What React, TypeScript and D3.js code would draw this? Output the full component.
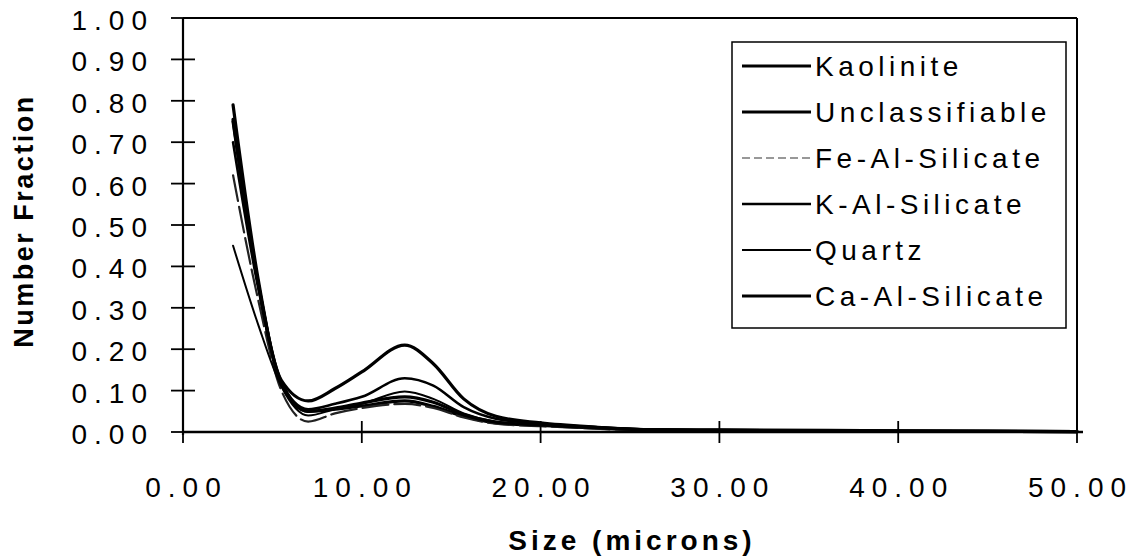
import React from 'react';
import * as d3 from 'd3';

// ---- data ----
const sizes = [2.8, 4.2, 5.5, 7, 8.5, 10, 12.4, 14, 15.7, 17.5, 20, 23, 26, 30, 40, 50];
const kaolinite = [0.79, 0.37, 0.115, 0.05, 0.055, 0.063, 0.075, 0.062, 0.038, 0.022, 0.016, 0.01, 0.005, 0.004, 0.002, 0.001];
const unclassifiable = [0.755, 0.36, 0.125, 0.075, 0.105, 0.145, 0.21, 0.165, 0.08, 0.038, 0.022, 0.012, 0.006, 0.005, 0.003, 0.001];
const feAlSilicate = [0.62, 0.32, 0.1, 0.025, 0.045, 0.058, 0.068, 0.058, 0.035, 0.02, 0.014, 0.008, 0.004, 0.003, 0.002, 0.001];
const kAlSilicate = [0.7, 0.35, 0.12, 0.055, 0.068, 0.085, 0.13, 0.112, 0.06, 0.032, 0.02, 0.012, 0.006, 0.004, 0.002, 0.001];
const quartz = [0.45, 0.26, 0.11, 0.04, 0.055, 0.068, 0.098, 0.08, 0.045, 0.025, 0.017, 0.01, 0.005, 0.004, 0.002, 0.001];
const caAlSilicate = [0.75, 0.36, 0.12, 0.05, 0.058, 0.07, 0.085, 0.072, 0.042, 0.024, 0.017, 0.011, 0.005, 0.004, 0.002, 0.001];

const seriesNames = ['Kaolinite', 'Unclassifiable', 'Fe-Al-Silicate', 'K-Al-Silicate', 'Quartz', 'Ca-Al-Silicate'];
const seriesValues = [kaolinite, unclassifiable, feAlSilicate, kAlSilicate, quartz, caAlSilicate];

const yTicks = [0, 0.1, 0.2, 0.3, 0.4, 0.5, 0.6, 0.7, 0.8, 0.9, 1.0];
const xTicks = [0, 10, 20, 30, 40, 50];

// ---- styles ----
const seriesStyles = [
  { stroke: '#000', width: 3.2, dash: '', legendStroke: '#000', legendDash: '' },
  { stroke: '#000', width: 3.2, dash: '', legendStroke: '#000', legendDash: '' },
  { stroke: '#222', width: 2.2, dash: '26,6', legendStroke: '#777', legendDash: '8,4' },
  { stroke: '#000', width: 2.6, dash: '', legendStroke: '#000', legendDash: '' },
  { stroke: '#000', width: 2.0, dash: '', legendStroke: '#000', legendDash: '' },
  { stroke: '#000', width: 3.2, dash: '', legendStroke: '#000', legendDash: '' },
];

const FONT = '"Liberation Sans", Arial, Helvetica, sans-serif';

export default function App() {
  const W = 1133;
  const H = 558;
  const x = d3.scaleLinear().domain([0, 50]).range([183, 1077]);
  const y = d3.scaleLinear().domain([0, 1]).range([432, 18]);

  const line = d3
    .line<[number, number]>()
    .x((d) => x(d[0]))
    .y((d) => y(d[1]))
    .curve(d3.curveMonotoneX);

  const legendTop = 42;
  const legendRight = 1066;
  const legendLeft = 732;
  const rowH = 46;
  const firstRow = 72;
  const legendBottom = firstRow + rowH * (seriesNames.length - 1) + 26;

  return (
    <div style={{ position: 'fixed', left: 0, top: 0 }}>
      <svg width={W} height={H} style={{ display: 'block', background: '#fff' }}>
        {/* frame top/right */}
        <line x1={x(0)} x2={x(50)} y1={y(1)} y2={y(1)} stroke="#000" strokeWidth={2} />
        <line x1={x(50)} x2={x(50)} y1={y(1)} y2={y(0)} stroke="#000" strokeWidth={2} />

        {/* series */}
        {seriesValues.map((vals, i) => {
          const pts = sizes.map((s, k) => [s, vals[k]] as [number, number]);
          const st = seriesStyles[i];
          return (
            <path
              key={seriesNames[i]}
              d={line(pts) || ''}
              fill="none"
              stroke={st.stroke}
              strokeWidth={st.width}
              strokeDasharray={st.dash || undefined}
              strokeLinejoin="round"
              strokeLinecap="round"
            />
          );
        })}

        {/* axes */}
        <line x1={x(0)} x2={x(0)} y1={y(1)} y2={y(0) + 3} stroke="#000" strokeWidth={2.2} />
        <line x1={x(0)} x2={x(50) + 6} y1={y(0)} y2={y(0)} stroke="#000" strokeWidth={2.6} />
        {yTicks.map((t) => (
          <g key={'y' + t}>
            <line x1={x(0) - 12} x2={x(0) + 12} y1={y(t)} y2={y(t)} stroke="#000" strokeWidth={1.8} />
            <text
              x={154}
              y={y(t) + 12}
              textAnchor="end"
              fontFamily={FONT}
              fontSize={28}
              letterSpacing={7}
              fill="#000"
            >
              {t.toFixed(2)}
            </text>
          </g>
        ))}
        {xTicks.map((t) => (
          <g key={'x' + t}>
            <line x1={x(t)} x2={x(t)} y1={y(0) - 11} y2={y(0) + 11} stroke="#000" strokeWidth={1.8} />
            <text
              x={x(t) + 3.5}
              y={497}
              textAnchor="middle"
              fontFamily={FONT}
              fontSize={28}
              letterSpacing={7}
              fill="#000"
            >
              {t.toFixed(2)}
            </text>
          </g>
        ))}

        {/* axis titles */}
        <text
          transform={`translate(33, 221) rotate(-90)`}
          textAnchor="middle"
          fontFamily={FONT}
          fontSize={27}
          fontWeight="bold"
          letterSpacing={2.5}
          fill="#000"
        >
          Number Fraction
        </text>
        <text
          x={(x(0) + x(50)) / 2 + 2}
          y={550}
          textAnchor="middle"
          fontFamily={FONT}
          fontSize={28}
          fontWeight="bold"
          letterSpacing={4}
          fill="#000"
        >
          Size (microns)
        </text>

        {/* legend */}
        <rect
          x={legendLeft}
          y={legendTop}
          width={legendRight - legendLeft}
          height={legendBottom - legendTop}
          fill="#fff"
          stroke="#000"
          strokeWidth={1.5}
        />
        {seriesNames.map((name, i) => {
          const cy = firstRow + rowH * i;
          const st = seriesStyles[i];
          return (
            <g key={'leg' + name}>
              <line
                x1={742}
                x2={811}
                y1={cy - 6}
                y2={cy - 6}
                stroke={st.legendStroke}
                strokeWidth={st.legendDash ? 1.4 : st.width}
                strokeDasharray={st.legendDash || undefined}
              />
              <text x={815} y={cy + 4} fontFamily={FONT} fontSize={28} letterSpacing={4.5} fill="#000">
                {name}
              </text>
            </g>
          );
        })}
      </svg>
    </div>
  );
}
